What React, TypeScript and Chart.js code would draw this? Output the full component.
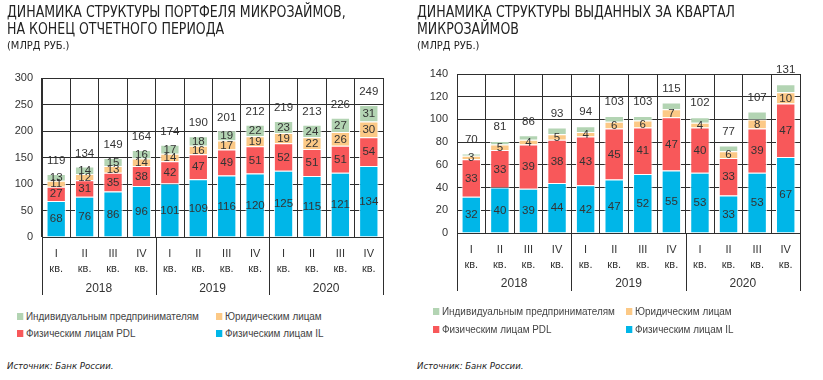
import React, { useEffect, useRef } from "react";
import { Chart, registerables } from "chart.js";
Chart.register(...registerables);

// ---------- data ----------
const quarterLabels = [
  ["I", "кв."], ["II", "кв."], ["III", "кв."], ["IV", "кв."],
  ["I", "кв."], ["II", "кв."], ["III", "кв."], ["IV", "кв."],
  ["I", "кв."], ["II", "кв."], ["III", "кв."], ["IV", "кв."],
];
const years = ["2018", "2019", "2020"];
const seriesNames = [
  "Индивидуальным предпринимателям",
  "Юридическим лицам",
  "Физическим лицам PDL",
  "Физическим лицам IL",
];

const portfolioIL = [68, 76, 86, 96, 101, 109, 116, 120, 125, 115, 121, 134];
const portfolioPDL = [27, 31, 35, 38, 42, 47, 49, 51, 52, 51, 51, 54];
const portfolioLegal = [11, 12, 13, 14, 14, 16, 17, 19, 19, 22, 26, 30];
const portfolioIP = [13, 14, 15, 16, 17, 18, 19, 22, 23, 24, 27, 31];
const portfolioTotal = [119, 134, 149, 164, 174, 190, 201, 212, 219, 213, 226, 249];

const issuedIL = [32, 40, 39, 44, 42, 47, 52, 55, 53, 33, 53, 67];
const issuedPDL = [33, 33, 39, 38, 43, 45, 41, 47, 40, 33, 39, 47];
const issuedLegal = [3, 5, 4, 5, 4, 6, 6, 7, 4, 6, 8, 10];
const issuedIP = [2, 3, 4, 6, 5, 5, 4, 6, 5, 5, 7, 7];
const issuedTotal = [70, 81, 86, 93, 94, 103, 103, 115, 102, 77, 107, 131];

// ---------- styles ----------
const C_IP = "#b3d4b3";
const C_LEGAL = "#fcc986";
const C_PDL = "#f8585a";
const C_IL = "#00b6e8";
const GRID = "#2e2e2e";
const TEXT = "#333333";
const NARROW = '"DejaVu Sans Condensed", Arial, sans-serif';
const SANS = '"Liberation Sans", Arial, sans-serif';

type PanelCfg = {
  width: number;
  height: number;
  yWidth: number;
  padRight: number;
  padTop: number;
  xHeight: number;
  yMax: number;
  yStep: number;
  il: number[];
  pdl: number[];
  legal: number[];
  ip: number[];
  totals: number[];
  labelIP: boolean;
  totalOffset: number;
  sepBottom: number;
  yearY: number;
};

function BarPanel({ cfg }: { cfg: PanelCfg }) {
  const ref = useRef<HTMLCanvasElement | null>(null);
  useEffect(() => {
    if (!ref.current) return;
    const segPlugin = {
      id: "segLabels",
      afterDatasetsDraw(chart: any) {
        const ctx = chart.ctx;
        ctx.save();
        ctx.font = `11.5px ${SANS}`;
        ctx.fillStyle = TEXT;
        ctx.textAlign = "center";
        ctx.textBaseline = "middle";
        const n = chart.data.datasets.length;
        for (let di = 0; di < n; di++) {
          if (di === n - 1 && !cfg.labelIP) continue;
          const ds = chart.data.datasets[di];
          const meta = chart.getDatasetMeta(di);
          meta.data.forEach((bar: any, i: number) => {
            ctx.fillText(String(ds.data[i]), bar.x, (bar.y + bar.base) / 2 + 0.5);
          });
        }
        const last = chart.getDatasetMeta(n - 1);
        last.data.forEach((bar: any, i: number) => {
          ctx.fillText(String(cfg.totals[i]), bar.x, bar.y - cfg.totalOffset);
        });
        ctx.restore();
      },
    };
    const yearPlugin = {
      id: "years",
      afterDraw(chart: any) {
        const ctx = chart.ctx;
        const xs = chart.scales.x;
        const area = chart.chartArea;
        ctx.save();
        ctx.strokeStyle = GRID;
        ctx.lineWidth = 1;
        const seps = [
          area.left,
          (xs.getPixelForValue(3) + xs.getPixelForValue(4)) / 2,
          (xs.getPixelForValue(7) + xs.getPixelForValue(8)) / 2,
          area.right,
        ];
        seps.forEach((x) => {
          const px = Math.round(x) + 0.5;
          ctx.beginPath();
          ctx.moveTo(px, area.bottom);
          ctx.lineTo(px, cfg.sepBottom);
          ctx.stroke();
        });
        ctx.font = `12px ${SANS}`;
        ctx.fillStyle = TEXT;
        ctx.textAlign = "center";
        ctx.textBaseline = "middle";
        years.forEach((yr, k) => {
          ctx.fillText(yr, (seps[k] + seps[k + 1]) / 2, cfg.yearY);
        });
        ctx.restore();
      },
    };
    const mk = (label: string, data: number[], color: string) => ({
      label,
      data,
      backgroundColor: color,
      borderColor: "#ffffff",
      borderWidth: 1,
      categoryPercentage: 0.8,
      barPercentage: 0.85,
    });
    const chart = new Chart(ref.current, {
      type: "bar",
      data: {
        labels: quarterLabels,
        datasets: [
          mk(seriesNames[3], cfg.il, C_IL),
          mk(seriesNames[2], cfg.pdl, C_PDL),
          mk(seriesNames[1], cfg.legal, C_LEGAL),
          mk(seriesNames[0], cfg.ip, C_IP),
        ],
      },
      options: {
        animation: false,
        responsive: false,
        maintainAspectRatio: false,
        layout: { padding: { left: 0, right: cfg.padRight, top: cfg.padTop, bottom: 0 } },
        plugins: { legend: { display: false }, tooltip: { enabled: false } },
        scales: {
          x: {
            stacked: true,
            grid: { color: GRID, drawTicks: false, offset: true },
            border: { color: GRID },
            ticks: {
              color: TEXT,
              font: { family: SANS, size: 11, lineHeight: 1.4 },
              padding: 9,
              maxRotation: 0,
              autoSkip: false,
            },
            afterFit: (s: any) => {
              s.height = cfg.xHeight;
            },
          },
          y: {
            stacked: true,
            min: 0,
            max: cfg.yMax,
            grid: { color: GRID, drawTicks: false },
            border: { color: GRID },
            ticks: {
              stepSize: cfg.yStep,
              color: TEXT,
              font: { family: SANS, size: 11 },
              padding: 9,
            },
            afterFit: (s: any) => {
              s.width = cfg.yWidth;
            },
          },
        },
      } as any,
      plugins: [segPlugin, yearPlugin],
    });
    return () => chart.destroy();
  }, [cfg]);
  return (
    <canvas
      ref={ref}
      width={cfg.width}
      height={cfg.height}
      style={{ position: "absolute", left: 0, top: 0, width: cfg.width, height: cfg.height }}
    />
  );
}

const leftCfg: PanelCfg = {
  width: 405,
  height: 305,
  yWidth: 42,
  padRight: 22,
  padTop: 78,
  xHeight: 68,
  yMax: 300,
  yStep: 50,
  il: portfolioIL,
  pdl: portfolioPDL,
  legal: portfolioLegal,
  ip: portfolioIP,
  totals: portfolioTotal,
  labelIP: true,
  totalOffset: 13,
  sepBottom: 295,
  yearY: 289,
};

const rightCfg: PanelCfg = {
  width: 413,
  height: 305,
  yWidth: 47,
  padRight: 23,
  padTop: 74,
  xHeight: 72,
  yMax: 140,
  yStep: 20,
  il: issuedIL,
  pdl: issuedPDL,
  legal: issuedLegal,
  ip: issuedIP,
  totals: issuedTotal,
  labelIP: false,
  totalOffset: 14,
  sepBottom: 291,
  yearY: 284,
};

function Title({ lines }: { lines: string[] }) {
  return (
    <>
      <div
        style={{
          position: "absolute",
          left: 7,
          top: 4,
          fontFamily: NARROW,
          fontSize: 15,
          lineHeight: "16.5px",
          color: "#222",
          whiteSpace: "nowrap",
          transform: "scaleX(0.93)",
          transformOrigin: "0 0",
        }}
      >
        {lines.map((l, i) => (
          <div key={i}>{l}</div>
        ))}
      </div>
      <div
        style={{
          position: "absolute",
          left: 7,
          top: 38.5,
          fontFamily: NARROW,
          fontSize: 11,
          lineHeight: "13px",
          color: "#222",
          whiteSpace: "nowrap",
        }}
      >
        (МЛРД РУБ.)
      </div>
    </>
  );
}

function LegendItem({ x, y, color, text }: { x: number; y: number; color: string; text: string }) {
  return (
    <div
      style={{
        position: "absolute",
        left: x,
        top: y - 7,
        height: 14,
        display: "flex",
        alignItems: "center",
        whiteSpace: "nowrap",
        fontFamily: SANS,
        fontSize: 11,
        color: "#444",
        transform: "scaleX(0.9)",
        transformOrigin: "0 50%",
      }}
    >
      <span style={{ display: "inline-block", width: 7, height: 7, background: color, marginRight: 3 }} />
      <span>{text}</span>
    </div>
  );
}

function Source() {
  return (
    <div
      style={{
        position: "absolute",
        left: 7,
        top: 359,
        fontFamily: NARROW,
        fontStyle: "italic",
        fontSize: 9.5,
        lineHeight: "13px",
        color: "#222",
        whiteSpace: "nowrap",
      }}
    >
      Источник: Банк России.
    </div>
  );
}

export default function App() {
  return (
    <div style={{ position: "absolute", left: 0, top: 0, width: 823, height: 380, background: "#fff", overflow: "hidden" }}>
      <div style={{ position: "absolute", left: 0, top: 0, width: 410, height: 380 }}>
        <BarPanel cfg={leftCfg} />
        <Title lines={["ДИНАМИКА СТРУКТУРЫ ПОРТФЕЛЯ МИКРОЗАЙМОВ,", "НА КОНЕЦ ОТЧЕТНОГО ПЕРИОДА"]} />
        <LegendItem x={17} y={316} color={C_IP} text={seriesNames[0]} />
        <LegendItem x={216} y={316} color={C_LEGAL} text={seriesNames[1]} />
        <LegendItem x={17} y={333} color={C_PDL} text={seriesNames[2]} />
        <LegendItem x={216} y={333} color={C_IL} text={seriesNames[3]} />
        <Source />
      </div>
      <div style={{ position: "absolute", left: 410, top: 0, width: 413, height: 380 }}>
        <BarPanel cfg={rightCfg} />
        <Title lines={["ДИНАМИКА СТРУКТУРЫ ВЫДАННЫХ ЗА КВАРТАЛ", "МИКРОЗАЙМОВ"]} />
        <LegendItem x={23} y={311} color={C_IP} text={seriesNames[0]} />
        <LegendItem x={216} y={311} color={C_LEGAL} text={seriesNames[1]} />
        <LegendItem x={23} y={329} color={C_PDL} text={seriesNames[2]} />
        <LegendItem x={216} y={329} color={C_IL} text={seriesNames[3]} />
        <Source />
      </div>
    </div>
  );
}
